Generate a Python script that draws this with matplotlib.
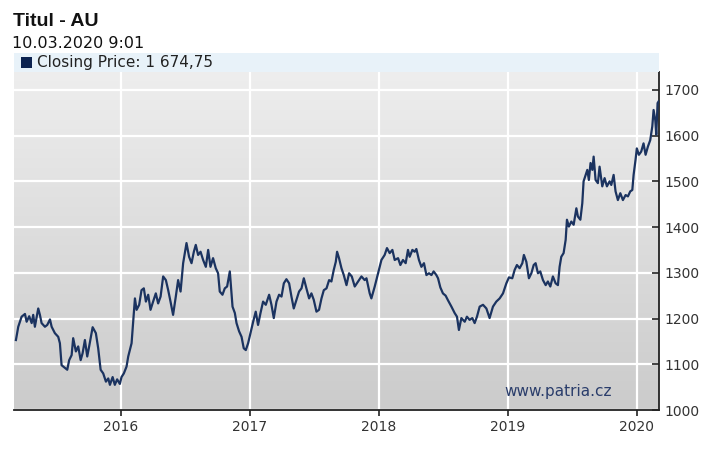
import numpy as np
import matplotlib
matplotlib.use("Agg")
import matplotlib.pyplot as plt
from matplotlib.patches import Rectangle

# ---- data (decimal year, closing price) ----
years = [
    2015.186, 2015.204, 2015.230, 2015.256, 2015.269, 2015.289, 2015.308, 2015.320,
    2015.333, 2015.359, 2015.372, 2015.385, 2015.411, 2015.429, 2015.450, 2015.463,
    2015.488, 2015.514, 2015.527, 2015.540, 2015.566, 2015.584, 2015.599, 2015.618,
    2015.630, 2015.651, 2015.669, 2015.688, 2015.703, 2015.721, 2015.739, 2015.754,
    2015.781, 2015.806, 2015.824, 2015.843, 2015.863, 2015.884, 2015.902, 2015.915,
    2015.936, 2015.953, 2015.971, 2015.992, 2016.005, 2016.023, 2016.044, 2016.057,
    2016.083, 2016.095, 2016.109, 2016.122, 2016.142, 2016.160, 2016.178, 2016.194,
    2016.212, 2016.230, 2016.250, 2016.271, 2016.289, 2016.308, 2016.328, 2016.349,
    2016.367, 2016.385, 2016.405, 2016.426, 2016.444, 2016.463, 2016.483, 2016.496,
    2016.509, 2016.529, 2016.548, 2016.566, 2016.581, 2016.599, 2016.618, 2016.638,
    2016.659, 2016.677, 2016.695, 2016.715, 2016.736, 2016.754, 2016.767, 2016.788,
    2016.806, 2016.824, 2016.845, 2016.866, 2016.884, 2016.897, 2016.917, 2016.936,
    2016.953, 2016.969, 2016.987, 2017.005, 2017.026, 2017.046, 2017.064, 2017.083,
    2017.103, 2017.124, 2017.150, 2017.168, 2017.186, 2017.207, 2017.227, 2017.246,
    2017.264, 2017.284, 2017.305, 2017.323, 2017.341, 2017.362, 2017.382, 2017.401,
    2017.419, 2017.439, 2017.460, 2017.478, 2017.496, 2017.517, 2017.537, 2017.556,
    2017.574, 2017.595, 2017.615, 2017.633, 2017.651, 2017.667, 2017.677, 2017.692,
    2017.711, 2017.729, 2017.750, 2017.770, 2017.791, 2017.814, 2017.840, 2017.866,
    2017.891, 2017.905, 2017.930, 2017.943, 2017.969, 2017.995, 2018.021, 2018.046,
    2018.064, 2018.085, 2018.106, 2018.124, 2018.150, 2018.168, 2018.188, 2018.209,
    2018.227, 2018.240, 2018.261, 2018.279, 2018.292, 2018.312, 2018.331, 2018.351,
    2018.370, 2018.390, 2018.409, 2018.426, 2018.447, 2018.460, 2018.478, 2018.498,
    2018.519, 2018.537, 2018.564, 2018.589, 2018.607, 2018.622, 2018.641, 2018.667,
    2018.684, 2018.705, 2018.726, 2018.744, 2018.762, 2018.783, 2018.809, 2018.835,
    2018.860, 2018.886, 2018.912, 2018.938, 2018.964, 2018.990, 2019.010, 2019.036,
    2019.054, 2019.072, 2019.093, 2019.114, 2019.126, 2019.145, 2019.165, 2019.184,
    2019.202, 2019.217, 2019.235, 2019.253, 2019.274, 2019.295, 2019.312, 2019.331,
    2019.351, 2019.372, 2019.390, 2019.403, 2019.416, 2019.434, 2019.450, 2019.460,
    2019.475, 2019.494, 2019.512, 2019.533, 2019.545, 2019.564, 2019.579, 2019.589,
    2019.605, 2019.618, 2019.630, 2019.643, 2019.657, 2019.667, 2019.682, 2019.700,
    2019.713, 2019.734, 2019.752, 2019.770, 2019.791, 2019.804, 2019.822, 2019.837,
    2019.855, 2019.874, 2019.894, 2019.915, 2019.933, 2019.951, 2019.967, 2019.977,
    2019.992, 2020.002, 2020.018, 2020.036, 2020.054, 2020.070, 2020.088, 2020.106,
    2020.122, 2020.132, 2020.145, 2020.153, 2020.163, 2020.171,
]
prices = [
    1153, 1182, 1204, 1210, 1193, 1205, 1190, 1208,
    1182, 1222, 1208, 1190, 1182, 1186, 1198, 1182,
    1168, 1160, 1146, 1098, 1092, 1088, 1109, 1120,
    1157, 1128, 1139, 1109, 1124, 1153, 1117, 1139,
    1181, 1168, 1135, 1088, 1080, 1062, 1069, 1055,
    1072, 1055, 1067, 1057, 1072, 1080, 1095, 1117,
    1146, 1190, 1244, 1219, 1230, 1262, 1266, 1237,
    1252, 1219, 1237, 1255, 1233, 1248, 1292, 1284,
    1262, 1237, 1208, 1248, 1284, 1259, 1321, 1343,
    1365, 1335, 1321, 1346, 1361, 1339, 1346, 1328,
    1313, 1350, 1313, 1332, 1310, 1299, 1259, 1252,
    1266, 1270, 1303, 1226, 1212, 1190, 1172, 1160,
    1135, 1131, 1146, 1168, 1193, 1215, 1186, 1212,
    1237, 1230, 1252, 1230, 1201, 1237, 1252, 1248,
    1277, 1286, 1277, 1248, 1222, 1241, 1259, 1266,
    1288, 1266, 1244, 1255, 1241, 1215, 1219, 1244,
    1262, 1266, 1284, 1281, 1306, 1324, 1346, 1332,
    1310, 1295, 1273, 1299, 1292, 1270, 1281, 1292,
    1284, 1288, 1255, 1244, 1270, 1299, 1328, 1339,
    1354, 1343, 1350, 1328, 1332, 1317, 1328, 1321,
    1350, 1335, 1350, 1346, 1352, 1328, 1313, 1321,
    1295, 1299, 1295, 1303, 1295, 1288, 1268, 1255,
    1250, 1240, 1226, 1212, 1204, 1175, 1201, 1193,
    1204, 1197, 1201, 1190, 1204, 1226, 1230, 1222,
    1201, 1226, 1237, 1244, 1255, 1277, 1290, 1288,
    1306, 1317, 1310, 1321, 1339, 1324, 1288, 1299,
    1317, 1321, 1299, 1303, 1284, 1273, 1281, 1270,
    1292, 1277, 1273, 1313, 1335, 1343, 1372, 1416,
    1401, 1412, 1405, 1441, 1423, 1416, 1452, 1500,
    1514, 1525, 1503, 1540, 1525, 1554, 1503, 1496,
    1532, 1489, 1507, 1489, 1500, 1492, 1514, 1478,
    1459, 1474, 1459, 1470, 1467, 1478, 1481, 1514,
    1547, 1572, 1558, 1565, 1583, 1558, 1576, 1590,
    1620, 1656, 1634, 1602, 1671, 1674.75,
]
year_ticks = [2016, 2017, 2018, 2019, 2020]
price_ticks = [1000, 1100, 1200, 1300, 1400, 1500, 1600, 1700]

title = "Titul - AU"
timestamp = "10.03.2020 9:01"
legend_label = "Closing Price: 1 674,75"
watermark = "www.patria.cz"

line_color = "#1b3360"
W, H = 715, 453
fig = plt.figure(figsize=(W / 100, H / 100), dpi=100)
fig.patch.set_facecolor("white")

ax_l, ax_r, ax_b, ax_t = 14, 659, 410, 72
ax = fig.add_axes([ax_l / W, 1 - ax_b / H, (ax_r - ax_l) / W, (ax_b - ax_t) / H])

# gradient background
grad = np.linspace(0, 1, 256).reshape(-1, 1)
cmap = matplotlib.colors.LinearSegmentedColormap.from_list("bg", ["#cbcbcb", "#eeeeee"])
ax.imshow(grad, extent=[0, 1, 0, 1], transform=ax.transAxes, cmap=cmap,
          aspect="auto", origin="lower", zorder=0)

ax.plot(years, prices, color=line_color, lw=1.6, zorder=3, solid_joinstyle="round")

ax.set_xlim(2015.171, 2020.174)
ax.set_ylim(1000, 1739)

ax.set_xticks(year_ticks)
ax.set_xticklabels([str(y) for y in year_ticks])
ax.set_yticks(price_ticks)
ax.yaxis.tick_right()
ax.grid(True, color="white", lw=1.6, zorder=1)
ax.set_axisbelow(True)

for s in ["left", "top"]:
    ax.spines[s].set_visible(False)
for s in ["right", "bottom"]:
    ax.spines[s].set_color("#222222")
    ax.spines[s].set_linewidth(1.3)

ax.tick_params(axis="y", direction="in", length=5, width=1.2, color="#222222",
               labelsize=10, labelcolor="#333333", pad=4)
ax.tick_params(axis="x", direction="out", length=4, width=1.2, color="#222222",
               labelsize=10, labelcolor="#333333", pad=3)

ax.text(0.927, 0.055, watermark, transform=ax.transAxes, ha="right", va="center",
        fontsize=11, color="#2a3d6b", zorder=4)

# header texts
fig.text(13 / W, 1 - 22 / H, title, fontsize=14, fontweight="bold",
         family="Liberation Sans", color="#111111", va="center", ha="left")
fig.text(12 / W, 1 - 44 / H, timestamp, fontsize=11.5, color="#111111",
         va="center", ha="left")

# legend band
fig.patches.append(Rectangle((ax_l / W, 1 - ax_t / H), (ax_r - ax_l) / W, 19 / H,
                             transform=fig.transFigure, facecolor="#e8f2f9",
                             edgecolor="none", zorder=0))
fig.patches.append(Rectangle((21 / W, 1 - 68 / H), 11 / W, 11 / H,
                             transform=fig.transFigure, facecolor="#0d2350",
                             edgecolor="none", zorder=1))
fig.text(37 / W, 1 - 62.5 / H, legend_label, fontsize=11, color="#222222",
         va="center", ha="left")

fig.savefig("out.png", dpi=100)
